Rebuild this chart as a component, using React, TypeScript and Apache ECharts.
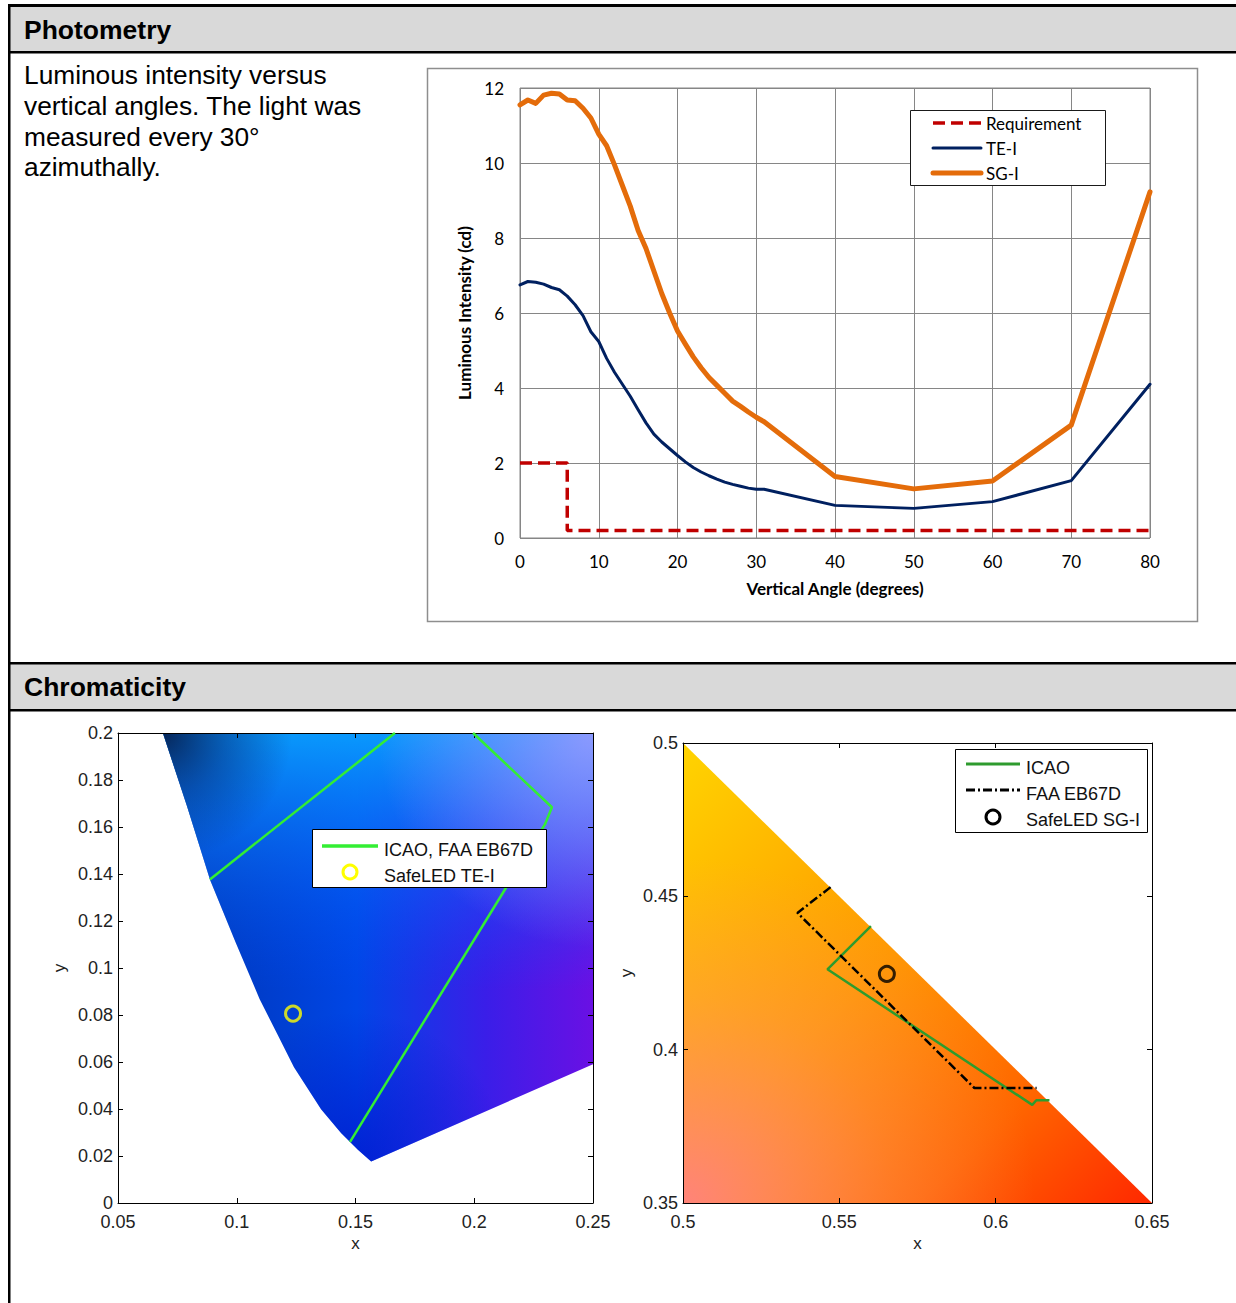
import React, { useEffect, useRef } from "react";
import * as echarts from "echarts";

// ---------------- Photometry data ----------------
const angles = [0, 1, 2, 3, 4, 5, 6, 7, 8, 9, 10, 11, 12, 13, 14, 15, 16, 17, 18, 19, 20, 21, 22, 23, 24, 25, 26, 27, 28, 29, 30, 31, 40, 50, 60, 70, 80];
const teIntensity = [6.75, 6.84, 6.82, 6.77, 6.68, 6.62, 6.45, 6.22, 5.93, 5.5, 5.24, 4.79, 4.42, 4.1, 3.78, 3.42, 3.07, 2.77, 2.56, 2.38, 2.2, 2.03, 1.88, 1.76, 1.66, 1.57, 1.49, 1.43, 1.38, 1.33, 1.3, 1.3, 0.87, 0.79, 0.97, 1.53, 4.1];
const sgIntensity = [11.55, 11.68, 11.59, 11.81, 11.86, 11.84, 11.68, 11.66, 11.46, 11.2, 10.77, 10.46, 9.95, 9.4, 8.85, 8.2, 7.72, 7.12, 6.52, 6.0, 5.52, 5.17, 4.83, 4.54, 4.28, 4.07, 3.86, 3.65, 3.51, 3.36, 3.22, 3.1, 1.64, 1.31, 1.52, 3.01, 9.23];
const reqAngles = [0, 6, 6, 80];
const reqIntensity = [2, 2, 0.2, 0.2];

// ---------------- Chromaticity: blue ----------------
const blueRegion = [
  [0.0689, 0.2], [0.25, 0.2], [0.25, 0.059], [0.1566, 0.0177], [0.151, 0.0227], [0.144, 0.0297],
  [0.1355, 0.0399], [0.1241, 0.0578], [0.117, 0.072], [0.1096, 0.0868], [0.0995, 0.111], [0.0887, 0.1377], [0.079, 0.169],
];
const icaoBlueUpper = [[0.0887, 0.1377], [0.1666, 0.2]];
const icaoBlueRight = [[0.1995, 0.2], [0.2327, 0.1684], [0.2298, 0.1612], [0.1477, 0.026]];
const teChroma = [[0.1237, 0.0806]];

// ---------------- Chromaticity: yellow ----------------
const yellowRegion = [[0.5, 0.5], [0.65, 0.35], [0.5, 0.35]];
const icaoYellow = [[0.5601, 0.4403], [0.5462, 0.4262], [0.6117, 0.382], [0.613, 0.3835], [0.6172, 0.3835]];
const faaYellow = [[0.5472, 0.453], [0.5366, 0.4446], [0.5932, 0.3875], [0.6131, 0.3875]];
const sgChroma = [[0.5652, 0.4247]];

const DOC_FONT = "'Liberation Sans', Arial, sans-serif";
const XL_FONT = "Lato, 'Open Sans', sans-serif";
const ML_FONT = "'Liberation Sans', Arial, sans-serif";

function zip(xs: number[], ys: number[]) {
  return xs.map((x, i) => [x, ys[i]]);
}

function polygonRender(points: number[][], layers: any[]) {
  return (_params: any, api: any) => {
    const pts = points.map((p) => api.coord(p));
    return {
      type: "group",
      children: layers.map((fill) => ({ type: "polygon", shape: { points: pts }, style: { fill, stroke: null } })),
    };
  };
}

function matlabX(gridIndex: number, min: number, max: number, position: string, labels: boolean) {
  return {
    type: "value",
    gridIndex,
    min,
    max,
    interval: 0.05,
    position,
    z: 5,
    axisLine: { show: true, onZero: false, lineStyle: { color: "#000", width: 1 } },
    axisTick: { show: true, inside: true, length: 5, lineStyle: { color: "#000" } },
    axisLabel: { show: labels, color: "#222", fontSize: 18, fontFamily: ML_FONT, margin: 10 },
    splitLine: { show: false },
  };
}

function matlabY(gridIndex: number, min: number, max: number, interval: number, position: string, labels: boolean) {
  return {
    type: "value",
    gridIndex,
    min,
    max,
    interval,
    position,
    z: 5,
    axisLine: { show: true, onZero: false, lineStyle: { color: "#000", width: 1 } },
    axisTick: { show: true, inside: true, length: 5, lineStyle: { color: "#000" } },
    axisLabel: { show: labels, color: "#222", fontSize: 18, fontFamily: ML_FONT, margin: 5 },
    splitLine: { show: false },
  };
}

function buildOption() {
  const G = echarts.graphic;
  const blueLayers = [
    new G.LinearGradient(0, 0, 1, 0, [
      { offset: 0, color: "#0034b0" },
      { offset: 0.45, color: "#0046e6" },
      { offset: 0.75, color: "#3a1ee8" },
      { offset: 1, color: "#6a10e4" },
    ]),
    new G.LinearGradient(0, 0, 0, 1, [
      { offset: 0, color: "rgba(10,160,255,0.92)" },
      { offset: 0.3, color: "rgba(10,120,255,0.45)" },
      { offset: 0.6, color: "rgba(0,80,255,0)" },
    ]),
    new G.RadialGradient(1, 0, 0.5, [
      { offset: 0, color: "rgba(170,155,255,0.8)" },
      { offset: 1, color: "rgba(170,155,255,0)" },
    ]),
    new G.RadialGradient(0, 0, 0.3, [
      { offset: 0, color: "rgba(5,25,70,0.9)" },
      { offset: 0.5, color: "rgba(5,35,110,0.45)" },
      { offset: 1, color: "rgba(5,40,120,0)" },
    ]),
    new G.RadialGradient(0.45, 1, 0.35, [
      { offset: 0, color: "rgba(0,10,200,0.6)" },
      { offset: 1, color: "rgba(0,10,200,0)" },
    ]),
  ];
  const yellowLayers = [
    new G.LinearGradient(0, 0, 1, 1, [
      { offset: 0, color: "#ffd400" },
      { offset: 0.45, color: "#ff9800" },
      { offset: 0.75, color: "#ff6600" },
      { offset: 1, color: "#ff2800" },
    ]),
    new G.RadialGradient(0, 1, 0.75, [
      { offset: 0, color: "rgba(255,130,135,0.9)" },
      { offset: 0.6, color: "rgba(255,150,120,0.3)" },
      { offset: 1, color: "rgba(255,150,120,0)" },
    ]),
  ];

  const legendZ = 100;
  const graphic: any[] = [
    // table
    { type: "rect", z: -10, shape: { x: 10, y: 7, width: 1226, height: 44 }, style: { fill: "#d9d9d9" } },
    { type: "rect", z: -10, shape: { x: 10, y: 664, width: 1226, height: 45 }, style: { fill: "#d9d9d9" } },
    { type: "rect", z: -5, shape: { x: 8, y: 4, width: 1228, height: 3 }, style: { fill: "#000" } },
    { type: "rect", z: -5, shape: { x: 8, y: 51, width: 1228, height: 2.5 }, style: { fill: "#000" } },
    { type: "rect", z: -5, shape: { x: 8, y: 662, width: 1228, height: 2.5 }, style: { fill: "#000" } },
    { type: "rect", z: -5, shape: { x: 8, y: 709, width: 1228, height: 2.5 }, style: { fill: "#000" } },
    { type: "rect", z: -5, shape: { x: 8, y: 4, width: 2.5, height: 1299 }, style: { fill: "#000" } },
    {
      type: "text", z: 1, x: 24, y: 30,
      style: { text: "Photometry", fill: "#000", fontFamily: DOC_FONT, fontSize: 26.5, fontWeight: "bold", verticalAlign: "middle" },
    },
    {
      type: "text", z: 1, x: 24, y: 687,
      style: { text: "Chromaticity", fill: "#000", fontFamily: DOC_FONT, fontSize: 26.5, fontWeight: "bold", verticalAlign: "middle" },
    },
    {
      type: "text", z: 1, x: 24, y: 60,
      style: {
        text: "Luminous intensity versus\nvertical angles. The light was\nmeasured every 30°\nazimuthally.",
        fill: "#000", fontFamily: DOC_FONT, fontSize: 26.3, lineHeight: 30.7, verticalAlign: "top",
      },
    },
    // excel chart frame
    { type: "rect", z: -1, shape: { x: 427.5, y: 68.5, width: 770, height: 553 }, style: { fill: "none", stroke: "#8e8e8e", lineWidth: 1.5 } },
    // excel legend
    { type: "rect", z: legendZ, shape: { x: 910.5, y: 110.5, width: 195, height: 75 }, style: { fill: "#fff", stroke: "#1a1a1a", lineWidth: 1 } },
    { type: "line", z: legendZ, shape: { x1: 933, y1: 123, x2: 981, y2: 123 }, style: { stroke: "#c00000", lineWidth: 3.5, lineDash: [12, 6] } },
    { type: "line", z: legendZ, shape: { x1: 933, y1: 148, x2: 981, y2: 148 }, style: { stroke: "#002060", lineWidth: 3, lineCap: "round" } },
    { type: "line", z: legendZ, shape: { x1: 933, y1: 173, x2: 981, y2: 173 }, style: { stroke: "#e46c0a", lineWidth: 5, lineCap: "round" } },
    { type: "text", z: legendZ, x: 986, y: 123, style: { text: "Requirement", fill: "#000", fontFamily: XL_FONT, fontSize: 17, verticalAlign: "middle" } },
    { type: "text", z: legendZ, x: 986, y: 148, style: { text: "TE-I", fill: "#000", fontFamily: XL_FONT, fontSize: 17, verticalAlign: "middle" } },
    { type: "text", z: legendZ, x: 986, y: 173, style: { text: "SG-I", fill: "#000", fontFamily: XL_FONT, fontSize: 17, verticalAlign: "middle" } },
    // blue legend
    { type: "rect", z: legendZ, shape: { x: 312.5, y: 829.5, width: 234, height: 58 }, style: { fill: "#fff", stroke: "#000", lineWidth: 1 } },
    { type: "line", z: legendZ, shape: { x1: 322, y1: 846, x2: 378, y2: 846 }, style: { stroke: "#33ee33", lineWidth: 3.5 } },
    { type: "circle", z: legendZ, shape: { cx: 350, cy: 872, r: 7 }, style: { fill: "none", stroke: "#ffff00", lineWidth: 3 } },
    { type: "text", z: legendZ, x: 384, y: 850, style: { text: "ICAO, FAA EB67D", fill: "#111", fontFamily: ML_FONT, fontSize: 18, verticalAlign: "middle" } },
    { type: "text", z: legendZ, x: 384, y: 876, style: { text: "SafeLED TE-I", fill: "#111", fontFamily: ML_FONT, fontSize: 18, verticalAlign: "middle" } },
    // yellow legend
    { type: "rect", z: legendZ, shape: { x: 955.5, y: 749.5, width: 192, height: 83 }, style: { fill: "#fff", stroke: "#000", lineWidth: 1 } },
    { type: "line", z: legendZ, shape: { x1: 966, y1: 764, x2: 1020, y2: 764 }, style: { stroke: "#2e9b2e", lineWidth: 3 } },
    { type: "line", z: legendZ, shape: { x1: 966, y1: 790, x2: 1020, y2: 790 }, style: { stroke: "#000", lineWidth: 3, lineDash: [9, 3, 2, 3] } },
    { type: "circle", z: legendZ, shape: { cx: 993, cy: 817, r: 7 }, style: { fill: "none", stroke: "#000", lineWidth: 3 } },
    { type: "text", z: legendZ, x: 1026, y: 768, style: { text: "ICAO", fill: "#111", fontFamily: ML_FONT, fontSize: 18, verticalAlign: "middle" } },
    { type: "text", z: legendZ, x: 1026, y: 794, style: { text: "FAA EB67D", fill: "#111", fontFamily: ML_FONT, fontSize: 18, verticalAlign: "middle" } },
    { type: "text", z: legendZ, x: 1026, y: 820, style: { text: "SafeLED SG-I", fill: "#111", fontFamily: ML_FONT, fontSize: 18, verticalAlign: "middle" } },
  ];

  return {
    animation: false,
    backgroundColor: "#fff",
    graphic,
    grid: [
      { left: 520, top: 88, width: 630, height: 450, show: true, borderColor: "#868686", borderWidth: 1, backgroundColor: "transparent" },
      { left: 118, top: 733, width: 475, height: 470 },
      { left: 683, top: 743, width: 469, height: 460 },
    ],
    xAxis: [
      {
        type: "value", gridIndex: 0, min: 0, max: 80, interval: 10,
        axisLine: { show: false }, axisTick: { show: false },
        axisLabel: { color: "#000", fontSize: 17, fontFamily: XL_FONT, margin: 15 },
        splitLine: { show: true, lineStyle: { color: "#868686", width: 1 } },
        name: "Vertical Angle (degrees)", nameLocation: "middle", nameGap: 42,
        nameTextStyle: { color: "#000", fontSize: 17, fontWeight: "bold", fontFamily: XL_FONT },
      },
      { ...matlabX(1, 0.05, 0.25, "bottom", true), name: "x", nameLocation: "middle", nameGap: 32, nameTextStyle: { color: "#222", fontSize: 17, fontFamily: ML_FONT } },
      matlabX(1, 0.05, 0.25, "top", false),
      { ...matlabX(2, 0.5, 0.65, "bottom", true), name: "x", nameLocation: "middle", nameGap: 32, nameTextStyle: { color: "#222", fontSize: 17, fontFamily: ML_FONT } },
      matlabX(2, 0.5, 0.65, "top", false),
    ],
    yAxis: [
      {
        type: "value", gridIndex: 0, min: 0, max: 12, interval: 2,
        axisLine: { show: false }, axisTick: { show: false },
        axisLabel: { color: "#000", fontSize: 17, fontFamily: XL_FONT, margin: 16 },
        splitLine: { show: true, lineStyle: { color: "#868686", width: 1 } },
        name: "Luminous Intensity (cd)", nameLocation: "middle", nameGap: 41,
        nameTextStyle: { color: "#000", fontSize: 17, fontWeight: "bold", fontFamily: XL_FONT },
      },
      { ...matlabY(1, 0, 0.2, 0.02, "left", true), name: "y", nameLocation: "middle", nameGap: 50, nameTextStyle: { color: "#222", fontSize: 17, fontFamily: ML_FONT } },
      matlabY(1, 0, 0.2, 0.02, "right", false),
      { ...matlabY(2, 0.35, 0.5, 0.05, "left", true), name: "y", nameLocation: "middle", nameGap: 48, nameTextStyle: { color: "#222", fontSize: 17, fontFamily: ML_FONT } },
      matlabY(2, 0.35, 0.5, 0.05, "right", false),
    ],
    series: [
      {
        name: "Requirement", type: "line", xAxisIndex: 0, yAxisIndex: 0, data: zip(reqAngles, reqIntensity),
        symbol: "none", lineStyle: { color: "#c00000", width: 3.5, type: [12, 6] }, z: 3,
      },
      {
        name: "TE-I", type: "line", xAxisIndex: 0, yAxisIndex: 0, data: zip(angles, teIntensity),
        symbol: "none", lineStyle: { color: "#002060", width: 3, cap: "round", join: "round" }, z: 3,
      },
      {
        name: "SG-I", type: "line", xAxisIndex: 0, yAxisIndex: 0, data: zip(angles, sgIntensity),
        symbol: "none", lineStyle: { color: "#e46c0a", width: 5, cap: "round", join: "round" }, z: 4,
      },
      {
        type: "custom", xAxisIndex: 1, yAxisIndex: 1, coordinateSystem: "cartesian2d", clip: true, silent: true, z: 1,
        data: [[0.15, 0.1]], renderItem: polygonRender(blueRegion, blueLayers),
      },
      {
        name: "ICAO, FAA EB67D", type: "line", xAxisIndex: 1, yAxisIndex: 1, data: icaoBlueUpper, symbol: "none",
        lineStyle: { color: "#33ee33", width: 2.5 }, z: 6,
      },
      {
        name: "ICAO, FAA EB67D (2)", type: "line", xAxisIndex: 1, yAxisIndex: 1, data: icaoBlueRight, symbol: "none",
        lineStyle: { color: "#33ee33", width: 2.5 }, z: 6,
      },
      {
        name: "SafeLED TE-I", type: "scatter", xAxisIndex: 1, yAxisIndex: 1, data: teChroma, symbol: "circle", symbolSize: 15,
        itemStyle: { color: "rgba(0,0,0,0)", borderColor: "#ffff00", borderWidth: 3 }, z: 7,
      },
      {
        type: "custom", xAxisIndex: 3, yAxisIndex: 3, coordinateSystem: "cartesian2d", clip: true, silent: true, z: 1,
        data: [[0.55, 0.4]], renderItem: polygonRender(yellowRegion, yellowLayers),
      },
      {
        name: "ICAO", type: "line", xAxisIndex: 3, yAxisIndex: 3, data: icaoYellow, symbol: "none",
        lineStyle: { color: "#2e9b2e", width: 2.5 }, z: 6,
      },
      {
        name: "FAA EB67D", type: "line", xAxisIndex: 3, yAxisIndex: 3, data: faaYellow, symbol: "none",
        lineStyle: { color: "#000", width: 2.5, type: [9, 3, 2, 3] }, z: 6,
      },
      {
        name: "SafeLED SG-I", type: "scatter", xAxisIndex: 3, yAxisIndex: 3, data: sgChroma, symbol: "circle", symbolSize: 15,
        itemStyle: { color: "rgba(0,0,0,0)", borderColor: "#000", borderWidth: 3 }, z: 7,
      },
    ],
  };
}

export default function App() {
  const ref = useRef<HTMLDivElement>(null);
  useEffect(() => {
    if (!ref.current) return;
    const chart = echarts.init(ref.current, null, { renderer: "svg" });
    chart.setOption(buildOption() as any);
    return () => chart.dispose();
  }, []);
  return <div ref={ref} style={{ position: "absolute", left: 0, top: 0, width: 1236, height: 1303, background: "#fff" }} />;
}
